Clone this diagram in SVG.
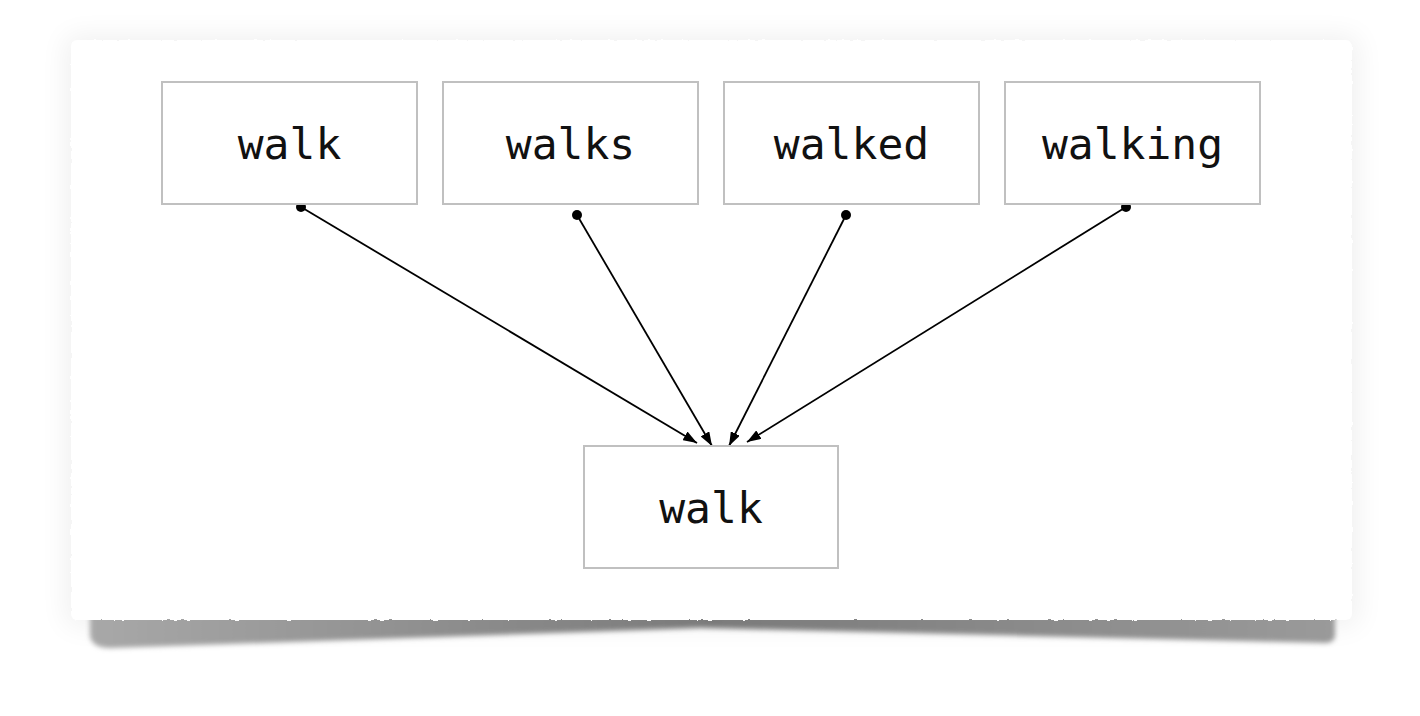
<svg xmlns="http://www.w3.org/2000/svg" width="1420" height="716" viewBox="0 0 1420 716">
<defs>
<style>
.node rect{fill:#fff;stroke:#c0c0c0;stroke-width:2}
.node text{font-family:"DejaVu Sans Mono","Liberation Mono",monospace;font-size:43px;fill:#111;text-anchor:middle}
.edge{stroke:#000;stroke-width:1.8;fill:none;marker-start:url(#dot);marker-end:url(#arr)}
</style>
<marker id="arr" viewBox="0 0 14 10" refX="14" refY="5" markerWidth="14" markerHeight="10" markerUnits="userSpaceOnUse" orient="auto">
<path d="M0,0 L14,5 L0,10 Z" fill="#000"/>
</marker>
<marker id="dot" viewBox="0 0 12 12" refX="6" refY="6" markerWidth="12" markerHeight="12" markerUnits="userSpaceOnUse">
<circle cx="6" cy="6" r="5" fill="#000"/>
</marker>
<filter id="glow" x="-10%" y="-20%" width="120%" height="140%">
<feGaussianBlur stdDeviation="14"/>
</filter>
<filter id="soft" x="-5%" y="-50%" width="110%" height="200%">
<feGaussianBlur stdDeviation="2.5"/>
</filter>
<filter id="rough" x="-2%" y="-2%" width="104%" height="104%">
<feTurbulence type="fractalNoise" baseFrequency="0.15" numOctaves="2" seed="3"/>
<feDisplacementMap in="SourceGraphic" scale="3"/>
</filter>
<linearGradient id="sh" x1="0" x2="1" y1="0" y2="0">
<stop offset="0" stop-color="#a8a8a8"/>
<stop offset="0.5" stop-color="#7a7a7a"/>
<stop offset="1" stop-color="#9a9a9a"/>
</linearGradient>
</defs>
<rect width="1420" height="716" fill="#fff"/>
<g id="paper">
<rect x="66" y="36" width="1292" height="590" rx="6" fill="#000" opacity="0.06" filter="url(#glow)"/>
<path d="M90,615 L1335,615 L1335,636 Q1334,643 1326,643 L700,628 L110,648 Q92,648 90,636 Z" fill="url(#sh)" filter="url(#soft)"/>
<rect x="71" y="40" width="1281" height="580" rx="6" fill="#fff" filter="url(#rough)"/>
</g>
<g id="connectors">
<line class="edge" x1="301" y1="207" x2="697" y2="443"/>
<line class="edge" x1="577" y1="215" x2="712" y2="446"/>
<line class="edge" x1="846" y1="215" x2="729" y2="446"/>
<line class="edge" x1="1126" y1="207" x2="747" y2="442"/>
</g>
<g id="n1" class="node"><rect x="162" y="82" width="255" height="122"/><text x="289.5" y="159">walk</text></g>
<g id="n2" class="node"><rect x="443" y="82" width="255" height="122"/><text x="570.5" y="159">walks</text></g>
<g id="n3" class="node"><rect x="724" y="82" width="255" height="122"/><text x="851.5" y="159">walked</text></g>
<g id="n4" class="node"><rect x="1005" y="82" width="255" height="122"/><text x="1132.5" y="159">walking</text></g>
<g id="n5" class="node"><rect x="584" y="446" width="254" height="122"/><text x="711" y="523">walk</text></g>
</svg>
